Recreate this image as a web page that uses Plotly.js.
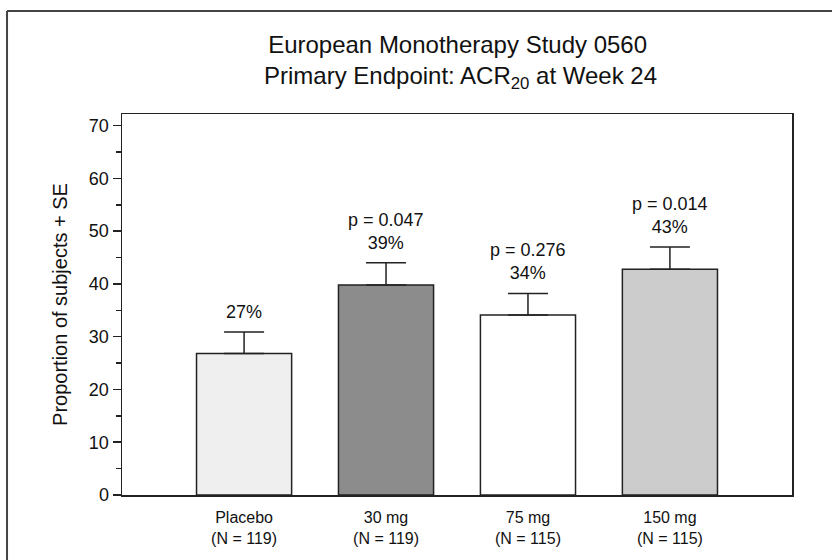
<!DOCTYPE html>
<html>
<head>
<meta charset="utf-8">
<script src="https://cdn.plot.ly/plotly-3.0.1.min.js"></script>
<style>html,body{margin:0;padding:0;background:#fff;}#chart{width:832px;height:560px;}</style>
</head>
<body>
<div id="chart"></div>
<script>
// Data
const categories = ["Placebo", "30 mg", "75 mg", "150 mg"];
const sampleSizes = [119, 119, 115, 115];
const proportions = [26.8, 39.8, 34.1, 42.8];
const standardErrors = [4.1, 4.2, 4.1, 4.2];
const percentLabels = ["27%", "39%", "34%", "43%"];
const pValues = ["", "0.047", "0.276", "0.014"];
const barColors = ["#efefef", "#8c8c8c", "#ffffff", "#cccccc"];
const titleLines = ["European Monotherapy Study 0560", "Primary Endpoint: ACR<sub>20</sub> at Week 24"];

const FONT = "Liberation Sans, Arial, Helvetica, sans-serif";
const tickText = categories.map((c, i) => c + "<br>(N = " + sampleSizes[i] + ")");

const trace = {
  type: "bar",
  x: categories,
  y: proportions,
  marker: { color: barColors, line: { color: "#222", width: 1.5 } },
  error_y: {
    type: "data",
    symmetric: false,
    array: standardErrors,
    arrayminus: categories.map(() => 0),
    color: "#222",
    thickness: 1.5,
    width: 20
  },
  hoverinfo: "skip"
};

const annotations = categories.map((c, i) => ({
  x: c,
  y: proportions[i] + standardErrors[i],
  xref: "x", yref: "y",
  yanchor: "bottom",
  yshift: 8,
  showarrow: false,
  text: (pValues[i] ? "p = " + pValues[i] + "<br>" : "") + percentLabels[i],
  font: { family: FONT, size: 18, color: "#111" }
}));

annotations.push({
  x: 0.505, y: 1.097, xref: "paper", yref: "paper",
  xanchor: "center", yanchor: "middle",
  showarrow: false,
  text: titleLines[1],
  font: { family: FONT, size: 24, color: "#111" }
});

const layout = {
  width: 832, height: 560,
  margin: { l: 122, r: 40, t: 114, b: 65 },
  paper_bgcolor: "#fff",
  plot_bgcolor: "#fff",
  font: { family: FONT, color: "#111" },
  showlegend: false,
  bargap: 0.33,
  title: {
    text: titleLines[0],
    font: { family: FONT, size: 24, color: "#111" },
    x: 0.55, xanchor: "center",
    y: 0.9196, yanchor: "middle"
  },
  xaxis: {
    type: "category",
    range: [-0.86, 3.86],
    tickvals: categories,
    ticktext: tickText,
    ticks: "",
    ticklabelstandoff: 7,
    showline: true, mirror: true, linecolor: "#222", linewidth: 1.5,
    showgrid: false, zeroline: false,
    tickfont: { family: FONT, size: 16, color: "#111" },
    fixedrange: true
  },
  yaxis: {
    range: [0, 72.2],
    tickvals: [0, 10, 20, 30, 40, 50, 60, 70],
    ticks: "outside", ticklen: 8, tickwidth: 1.5, tickcolor: "#222",
    minor: { dtick: 5, tick0: 0, ticks: "outside", ticklen: 5, tickwidth: 1.5, tickcolor: "#222", showgrid: false },
    showline: true, mirror: true, linecolor: "#222", linewidth: 1.5,
    showgrid: false, zeroline: false,
    tickfont: { family: FONT, size: 18, color: "#111" },
    title: { text: "Proportion of subjects + SE", font: { family: FONT, size: 20, color: "#111" }, standoff: 16 },
    fixedrange: true
  },
  annotations: annotations,
  shapes: [
    { type: "line", xref: "paper", yref: "paper", x0: -0.1716, x1: 1.07, y0: 1.2703, y1: 1.2703, line: { color: "#444", width: 2 } },
    { type: "line", xref: "paper", yref: "paper", x0: -0.1716, x1: -0.1716, y0: 1.2703, y1: -0.2, line: { color: "#444", width: 2 } }
  ]
};

Plotly.newPlot("chart", [trace], layout, { displayModeBar: false, staticPlot: true });
</script>
</body>
</html>
